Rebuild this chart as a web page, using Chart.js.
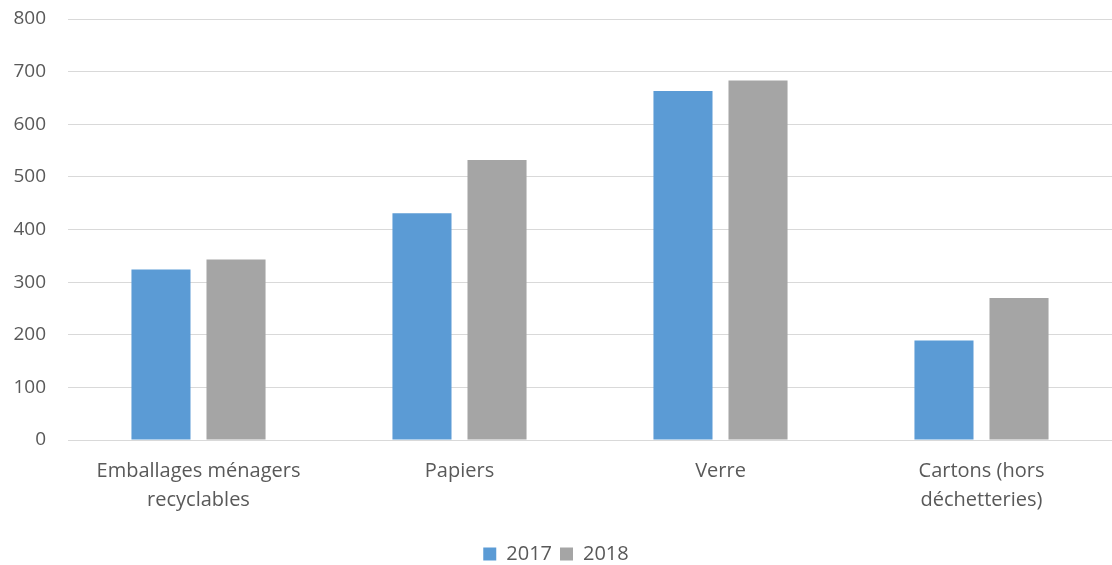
<!DOCTYPE html>
<html lang="fr">
<head>
    <meta charset="UTF-8">
    <title>Collecte sélective 2017-2018</title>
    <script src="https://cdn.jsdelivr.net/npm/chart.js"></script>
    <style>
        html, body { margin: 0; padding: 0; background: #ffffff; }
        .chart-box { width: 1112px; height: 565px; position: relative; }
    </style>
</head>
<body>
<div class="chart-box">
    <canvas id="collecteChart"></canvas>
</div>
<script>
    const categories = [
        ['Emballages ménagers', 'recyclables'],
        'Papiers',
        'Verre',
        ['Cartons (hors', 'déchetteries)']
    ];
    const values2017 = [324, 431, 663, 189];
    const values2018 = [343, 532, 683, 270];
    const yTicks = [0, 100, 200, 300, 400, 500, 600, 700, 800];

    const textColor = '#595959';
    const fontFamily = '"Open Sans", sans-serif';

    new Chart(document.getElementById('collecteChart'), {
        type: 'bar',
        data: {
            labels: categories,
            datasets: [
                { label: '2017', data: values2017, backgroundColor: '#5B9BD5' },
                { label: '2018', data: values2018, backgroundColor: '#A5A5A5' }
            ]
        },
        options: {
            responsive: true,
            maintainAspectRatio: false,
            animation: false,
            datasets: { bar: { categoryPercentage: 0.575, barPercentage: 0.787 } },
            layout: { padding: { top: 19, right: 0, left: 0, bottom: -9 } },
            plugins: {
                tooltip: { enabled: false },
                legend: {
                    position: 'bottom',
                    labels: {
                        color: textColor,
                        font: { family: fontFamily, size: 20 },
                        boxWidth: 13,
                        boxHeight: 13,
                        padding: 8
                    }
                }
            },
            scales: {
                x: {
                    afterFit: (scale) => { scale.height = scale.height + 12; },
                    grid: { display: false },
                    border: { color: '#D9D9D9', width: 1 },
                    ticks: {
                        color: textColor,
                        font: { family: fontFamily, size: 20, lineHeight: '29px' },
                        maxRotation: 0,
                        padding: 9
                    }
                },
                y: {
                    min: 0,
                    max: 800,
                    afterFit: (scale) => {
                        scale.width = 68;
                        scale.paddingTop = 0;
                        scale.paddingBottom = 0;
                    },
                    afterBuildTicks: (scale) => { scale.ticks = yTicks.map(v => ({ value: v })); },
                    grid: { color: '#D9D9D9', lineWidth: 1, drawTicks: false },
                    border: { display: false },
                    ticks: {
                        color: textColor,
                        font: { family: fontFamily, size: 19 },
                        padding: 22
                    }
                }
            }
        }
    });
</script>
</body>
</html>
